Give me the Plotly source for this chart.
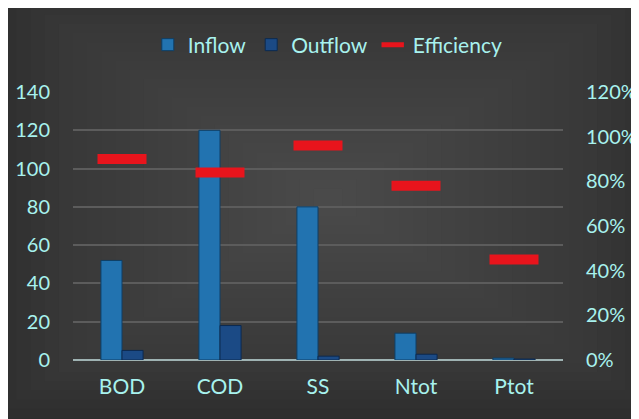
import plotly.graph_objects as go

categories = ["BOD", "COD", "SS", "Ntot", "Ptot"]
inflow = [52, 120, 80, 14, 1]
outflow = [5, 18, 2, 3, 0.5]
efficiency = [0.90, 0.84, 0.96, 0.78, 0.45]

left_ticks = [0, 20, 40, 60, 80, 100, 120, 140]
right_ticks = [0, 0.2, 0.4, 0.6, 0.8, 1.0, 1.2]

txt = "#A8F2EE"
font_family = "Lato, 'Open Sans', sans-serif"

fig = go.Figure()
fig.add_bar(x=categories, y=inflow, name="Inflow",
            marker=dict(color="#2273B0", line=dict(color="#0E3F66", width=1)))
fig.add_bar(x=categories, y=outflow, name="Outflow",
            marker=dict(color="#1B4A85", line=dict(color="#0C2A50", width=1)))
fig.add_scatter(x=categories, y=efficiency, name="Efficiency", yaxis="y2",
                mode="markers",
                marker=dict(symbol="line-ew", size=35,
                            line=dict(color="#E8141C", width=10)))

W, H = 639, 419
L, R, T, B = 65, 84, 84, 67
pw, ph = W - L - R, H - T - B
y_bottom = H - B


def px_x(v):
    return (v - L) / pw


def px_y(v):
    return (y_bottom - v) / ph


# soft radial-like gradient over the dark background
cx, cy = 320, 190
steps = 24
for i in range(steps):
    f = 1 - i / steps
    hw, hh = 340 * f, 220 * f
    fig.add_shape(type="rect", xref="paper", yref="paper", layer="below",
                  x0=px_x(cx - hw), x1=px_x(cx + hw),
                  y0=px_y(cy + hh), y1=px_y(cy - hh),
                  fillcolor="#5E5E5E", opacity=0.055, line=dict(width=0))

fig.update_layout(
    width=W, height=H,
    margin=dict(l=L, r=R, t=T, b=B, autoexpand=False),
    paper_bgcolor="#2C2C2C",
    plot_bgcolor="rgba(0,0,0,0)",
    barmode="group", bargap=0.57, bargroupgap=0,
    font=dict(family=font_family, color=txt, size=20),
    showlegend=True,
    legend=dict(orientation="h", x=0.52, xanchor="center", y=px_y(37),
                yanchor="middle", font=dict(size=21, color=txt),
                bgcolor="rgba(0,0,0,0)", itemwidth=30),
    xaxis=dict(showgrid=False, tickfont=dict(size=21, color=txt),
               ticklabelstandoff=12, showline=False, zeroline=False),
    yaxis=dict(range=[0, 140], tickvals=left_ticks, showgrid=True,
               gridcolor="#5C5C5C", gridwidth=1.5, zeroline=True,
               zerolinecolor="#9FB3B3", zerolinewidth=2,
               tickfont=dict(size=20, color=txt), ticklabelstandoff=22),
    yaxis2=dict(range=[0, 1.2], tickvals=right_ticks, tickformat=".0%",
                overlaying="y", side="right", showgrid=False, zeroline=False,
                tickfont=dict(size=20, color=txt), ticklabelstandoff=22),
)

fig.write_html("out.html")
